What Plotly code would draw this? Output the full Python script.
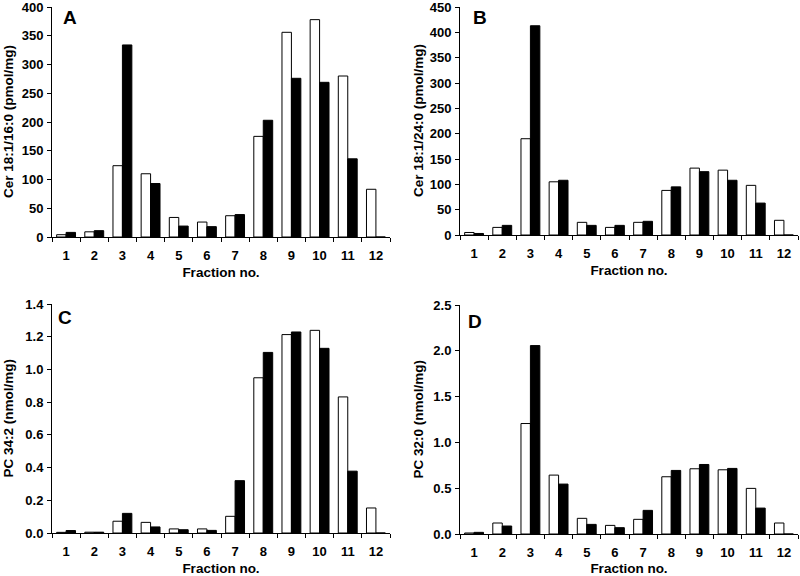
import plotly.graph_objects as go

fractions = ["1", "2", "3", "4", "5", "6", "7", "8", "9", "10", "11", "12"]

# Panel A: Cer 18:1/16:0 (pmol/mg)
a_white = [4, 9, 124, 110, 34, 26, 37, 175, 356, 378, 280, 83]
a_black = [8, 11, 334, 93, 19, 18, 39, 203, 276, 269, 136, 0]
# Panel B: Cer 18:1/24:0 (pmol/mg)
b_white = [5, 15, 190, 105, 25, 15, 25, 88, 132, 128, 98, 29]
b_black = [3, 19, 413, 108, 19, 19, 27, 95, 125, 108, 63, 0]
# Panel C: PC 34:2 (nmol/mg)
c_white = [0.004, 0.005, 0.072, 0.065, 0.025, 0.025, 0.102, 0.949, 1.213, 1.239, 0.832, 0.153]
c_black = [0.015, 0.005, 0.120, 0.037, 0.020, 0.016, 0.320, 1.104, 1.229, 1.129, 0.378, 0.0]
# Panel D: PC 32:0 (nmol/mg)
d_white = [0.011, 0.12, 1.206, 0.643, 0.171, 0.094, 0.160, 0.625, 0.712, 0.701, 0.498, 0.12]
d_black = [0.018, 0.087, 2.057, 0.545, 0.105, 0.069, 0.258, 0.694, 0.759, 0.716, 0.283, 0.0]

panels = [
    dict(w=a_white, b=a_black, letter="A", title="Cer 18:1/16:0 (pmol/mg)", rng=[0, 400], dtick=50, fmt="d"),
    dict(w=b_white, b=b_black, letter="B", title="Cer 18:1/24:0 (pmol/mg)", rng=[0, 450], dtick=50, fmt="d"),
    dict(w=c_white, b=c_black, letter="C", title="PC 34:2 (nmol/mg)", rng=[0, 1.4], dtick=0.2, fmt=".1f"),
    dict(w=d_white, b=d_black, letter="D", title="PC 32:0 (nmol/mg)", rng=[0, 2.5], dtick=0.5, fmt=".1f"),
]

W, H = 800, 576
# pixel boxes (left, right, top, bottom)
boxes = [
    (52, 390, 7, 237),
    (460, 798, 7, 235),
    (52, 390, 304, 533),
    (460, 798, 305, 534),
]
letter_pos = [(61, 5), (471, 5), (56, 305), (466, 309)]
ytitle_x = [8, 419, 8, 418]

FONT = "Liberation Sans, Arial, sans-serif"
TICKF = dict(family=FONT, size=13, color="black", weight="bold")
TITLEF = dict(family=FONT, size=13.5, color="black", weight="bold")
fig = go.Figure()
layout = dict(
    width=W, height=H, margin=dict(l=0, r=0, t=0, b=0),
    paper_bgcolor="white", plot_bgcolor="white", showlegend=False,
    barmode="group", bargap=0.33, bargroupgap=0.0,
    font=dict(family=FONT, size=13, color="black", weight="bold"),
    annotations=[],
)

for i, (p, box) in enumerate(zip(panels, boxes)):
    n = i + 1
    xa = "x" if n == 1 else f"x{n}"
    ya = "y" if n == 1 else f"y{n}"
    fig.add_trace(go.Bar(x=fractions, y=p["w"], xaxis=xa, yaxis=ya,
                         marker=dict(color="white", line=dict(color="black", width=1)),
                         name="white"))
    fig.add_trace(go.Bar(x=fractions, y=p["b"], xaxis=xa, yaxis=ya,
                         marker=dict(color="black", line=dict(color="black", width=1)),
                         name="black"))
    l, r, t, b = box
    xkey = "xaxis" if n == 1 else f"xaxis{n}"
    ykey = "yaxis" if n == 1 else f"yaxis{n}"
    layout[xkey] = dict(
        domain=[l / W, r / W], anchor=ya, type="category", automargin=False,
        range=[-0.5, 11.5], showline=True, linecolor="black", linewidth=1,
        ticks="outside", tickson="boundaries", ticklen=4, tickcolor="black",
        showgrid=False, zeroline=False, tickfont=TICKF, ticklabeloverflow="allow",
        ticklabelstandoff=6,
        title=dict(text="Fraction no.", standoff=5, font=TITLEF),
    )
    layout[ykey] = dict(
        domain=[1 - b / H, 1 - t / H], anchor=xa, automargin=False,
        range=p["rng"], dtick=p["dtick"], tick0=0, tickformat=p["fmt"],
        showline=True, linecolor="black", linewidth=1,
        ticks="outside", ticklen=4, tickcolor="black",
        showgrid=False, zeroline=False, tickfont=TICKF, ticklabeloverflow="allow",
        ticklabelstandoff=1,
    )
    # y-axis title as rotated text placed beside the axis
    layout["annotations"].append(dict(
        text=p["title"], x=ytitle_x[i] / W, y=1 - (t + b) / 2 / H,
        xref="paper", yref="paper", xanchor="center", yanchor="middle",
        textangle=-90, showarrow=False, font=TITLEF,
    ))
    lx, ly = letter_pos[i]
    layout["annotations"].append(dict(
        text=p["letter"], x=lx / W, y=1 - ly / H, xref="paper", yref="paper",
        xanchor="left", yanchor="top", showarrow=False,
        font=dict(family=FONT, size=19, color="black", weight="bold"),
    ))

fig.update_layout(**layout)
fig.write_html("out.html", config={"displayModeBar": False},
               post_script="document.body.style.margin='0';document.body.style.overflow='hidden';")
